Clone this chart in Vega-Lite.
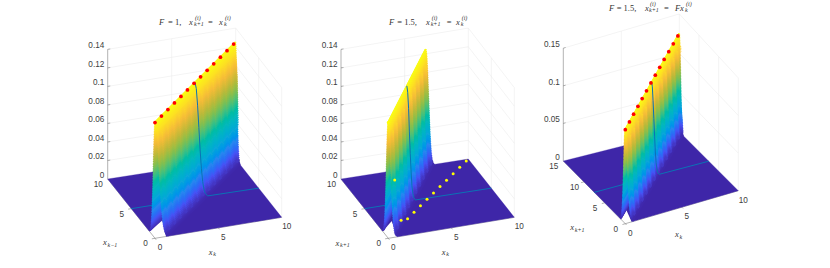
{"$schema":"https://vega.github.io/schema/vega-lite/v6.json","width":830,"height":268,"padding":0,"autosize":"none","background":"white","config":{"view":{"stroke":null}},
"params":[{"name":"PR","value":[
{"a":155,"b":126.7,"c":-47.3,"d":1.3,"e":238.3,"f":-21,"g":-59.3,"h":1,"zs":926,"q":0.01,"ym":10,"F":1},
{"a":388.3,"b":126,"c":-47.3,"d":1.3,"e":238.3,"f":-21,"g":-59.3,"h":1,"zs":926,"q":0.01,"ym":10,"F":1.5},
{"a":625.3,"b":113,"c":-62,"d":3,"e":223.7,"f":-33,"g":-62.7,"h":3.7,"zs":752,"q":0.044,"ym":15,"F":1.5}]}],
"datasets":{
"profile":[{"w":0,"z":0.125},{"w":0.052,"z":0.1231},{"w":0.074,"z":0.1213},{"w":0.091,"z":0.1194},{"w":0.106,"z":0.1175},{"w":0.1185,"z":0.1156},{"w":0.13,"z":0.1138},{"w":0.1413,"z":0.1119},{"w":0.152,"z":0.11},{"w":0.1616,"z":0.1081},{"w":0.171,"z":0.1063},{"w":0.18,"z":0.1044},{"w":0.189,"z":0.1025},{"w":0.1976,"z":0.1006},{"w":0.206,"z":0.0988},{"w":0.2142,"z":0.0969},{"w":0.222,"z":0.095},{"w":0.2302,"z":0.0931},{"w":0.238,"z":0.0913},{"w":0.2457,"z":0.0894},{"w":0.253,"z":0.0875},{"w":0.261,"z":0.0856},{"w":0.268,"z":0.0838},{"w":0.276,"z":0.0819},{"w":0.283,"z":0.08},{"w":0.2909,"z":0.0781},{"w":0.298,"z":0.0763},{"w":0.3057,"z":0.0744},{"w":0.313,"z":0.0725},{"w":0.3206,"z":0.0706},{"w":0.328,"z":0.0688},{"w":0.3356,"z":0.0669},{"w":0.343,"z":0.065},{"w":0.3506,"z":0.0631},{"w":0.358,"z":0.0613},{"w":0.366,"z":0.0594},{"w":0.374,"z":0.0575},{"w":0.3817,"z":0.0556},{"w":0.39,"z":0.0538},{"w":0.398,"z":0.0519},{"w":0.406,"z":0.05},{"w":0.4145,"z":0.0481},{"w":0.423,"z":0.0463},{"w":0.4317,"z":0.0444},{"w":0.441,"z":0.0425},{"w":0.4498,"z":0.0406},{"w":0.459,"z":0.0388},{"w":0.4687,"z":0.0369},{"w":0.479,"z":0.035},{"w":0.4889,"z":0.0331},{"w":0.5,"z":0.0313},{"w":0.5105,"z":0.0294},{"w":0.522,"z":0.0275},{"w":0.534,"z":0.0256},{"w":0.547,"z":0.0238},{"w":0.5601,"z":0.0219},{"w":0.574,"z":0.02},{"w":0.5896,"z":0.0181},{"w":0.606,"z":0.0163},{"w":0.624,"z":0.0144},{"w":0.644,"z":0.0125},{"w":0.666,"z":0.0106},{"w":0.692,"z":0.0088},{"w":0.7225,"z":0.0069},{"w":0.761,"z":0.005},{"w":0.7945,"z":0.0038},{"w":0.839,"z":0.0025},{"w":0.892,"z":0.0015},{"w":0.976,"z":0.0006}],
"rest":[
{"k":"g","p":0,"a":[0,10,0.02],"b":[10,10,0.02]},{"k":"g","p":0,"a":[10,10,0.02],"b":[10,0,0.02]},
{"k":"g","p":0,"a":[0,10,0.04],"b":[10,10,0.04]},{"k":"g","p":0,"a":[10,10,0.04],"b":[10,0,0.04]},
{"k":"g","p":0,"a":[0,10,0.06],"b":[10,10,0.06]},{"k":"g","p":0,"a":[10,10,0.06],"b":[10,0,0.06]},
{"k":"g","p":0,"a":[0,10,0.08],"b":[10,10,0.08]},{"k":"g","p":0,"a":[10,10,0.08],"b":[10,0,0.08]},
{"k":"g","p":0,"a":[0,10,0.1],"b":[10,10,0.1]},{"k":"g","p":0,"a":[10,10,0.1],"b":[10,0,0.1]},
{"k":"g","p":0,"a":[0,10,0.12],"b":[10,10,0.12]},{"k":"g","p":0,"a":[10,10,0.12],"b":[10,0,0.12]},
{"k":"g","p":0,"a":[0,10,0.14],"b":[10,10,0.14]},{"k":"g","p":0,"a":[10,10,0.14],"b":[10,0,0.14]},
{"k":"g","p":0,"a":[5,10,0],"b":[5,10,0.14]},{"k":"g","p":0,"a":[10,10,0],"b":[10,10,0.14]},{"k":"g","p":0,"a":[10,5,0],"b":[10,5,0.14]},{"k":"g","p":0,"a":[10,0,0],"b":[10,0,0.14]},
{"k":"g","p":1,"a":[0,10,0.02],"b":[10,10,0.02]},{"k":"g","p":1,"a":[10,10,0.02],"b":[10,0,0.02]},
{"k":"g","p":1,"a":[0,10,0.04],"b":[10,10,0.04]},{"k":"g","p":1,"a":[10,10,0.04],"b":[10,0,0.04]},
{"k":"g","p":1,"a":[0,10,0.06],"b":[10,10,0.06]},{"k":"g","p":1,"a":[10,10,0.06],"b":[10,0,0.06]},
{"k":"g","p":1,"a":[0,10,0.08],"b":[10,10,0.08]},{"k":"g","p":1,"a":[10,10,0.08],"b":[10,0,0.08]},
{"k":"g","p":1,"a":[0,10,0.1],"b":[10,10,0.1]},{"k":"g","p":1,"a":[10,10,0.1],"b":[10,0,0.1]},
{"k":"g","p":1,"a":[0,10,0.12],"b":[10,10,0.12]},{"k":"g","p":1,"a":[10,10,0.12],"b":[10,0,0.12]},
{"k":"g","p":1,"a":[0,10,0.14],"b":[10,10,0.14]},{"k":"g","p":1,"a":[10,10,0.14],"b":[10,0,0.14]},
{"k":"g","p":1,"a":[5,10,0],"b":[5,10,0.14]},{"k":"g","p":1,"a":[10,10,0],"b":[10,10,0.14]},{"k":"g","p":1,"a":[10,5,0],"b":[10,5,0.14]},{"k":"g","p":1,"a":[10,0,0],"b":[10,0,0.14]},
{"k":"g","p":2,"a":[0,15,0.05],"b":[10,15,0.05]},{"k":"g","p":2,"a":[10,15,0.05],"b":[10,0,0.05]},
{"k":"g","p":2,"a":[0,15,0.1],"b":[10,15,0.1]},{"k":"g","p":2,"a":[10,15,0.1],"b":[10,0,0.1]},
{"k":"g","p":2,"a":[0,15,0.15],"b":[10,15,0.15]},{"k":"g","p":2,"a":[10,15,0.15],"b":[10,0,0.15]},
{"k":"g","p":2,"a":[5,15,0],"b":[5,15,0.15]},{"k":"g","p":2,"a":[10,15,0],"b":[10,15,0.15]},{"k":"g","p":2,"a":[10,10,0],"b":[10,10,0.15]},{"k":"g","p":2,"a":[10,5,0],"b":[10,5,0.15]},{"k":"g","p":2,"a":[10,0,0],"b":[10,0,0.15]},
{"k":"ax","p":0,"a":[0,10,0],"b":[0,10,0.14]},{"k":"ax","p":0,"a":[0,0,0],"b":[10,0,0]},{"k":"ax","p":0,"a":[0,0,0],"b":[0,10,0]},
{"k":"ax","p":1,"a":[0,10,0],"b":[0,10,0.14]},{"k":"ax","p":1,"a":[0,0,0],"b":[10,0,0]},{"k":"ax","p":1,"a":[0,0,0],"b":[0,10,0]},
{"k":"ax","p":2,"a":[0,15,0],"b":[0,15,0.15]},{"k":"ax","p":2,"a":[0,0,0],"b":[10,0,0]},{"k":"ax","p":2,"a":[0,0,0],"b":[0,15,0]},
{"k":"ax","p":0,"a":[0,0,0],"b":[0,-0.25,0]},{"k":"ax","p":0,"a":[5,0,0],"b":[5,-0.25,0]},{"k":"ax","p":0,"a":[0,0,0],"b":[-0.25,0,0]},{"k":"ax","p":0,"a":[0,5,0],"b":[-0.25,5,0]},
{"k":"ax","p":1,"a":[0,0,0],"b":[0,-0.25,0]},{"k":"ax","p":1,"a":[5,0,0],"b":[5,-0.25,0]},{"k":"ax","p":1,"a":[0,0,0],"b":[-0.25,0,0]},{"k":"ax","p":1,"a":[0,5,0],"b":[-0.25,5,0]},
{"k":"ax","p":2,"a":[0,0,0],"b":[0,-0.3,0]},{"k":"ax","p":2,"a":[5,0,0],"b":[5,-0.3,0]},{"k":"ax","p":2,"a":[0,0,0],"b":[-0.25,0,0]},{"k":"ax","p":2,"a":[0,5,0],"b":[-0.25,5,0]},{"k":"ax","p":2,"a":[0,10,0],"b":[-0.25,10,0]},
{"k":"ax","p":0,"a":[0,10,0.02],"b":[0.2,10,0.02]},{"k":"ax","p":0,"a":[0,10,0.04],"b":[0.2,10,0.04]},{"k":"ax","p":0,"a":[0,10,0.06],"b":[0.2,10,0.06]},{"k":"ax","p":0,"a":[0,10,0.08],"b":[0.2,10,0.08]},{"k":"ax","p":0,"a":[0,10,0.1],"b":[0.2,10,0.1]},{"k":"ax","p":0,"a":[0,10,0.12],"b":[0.2,10,0.12]},{"k":"ax","p":0,"a":[0,10,0.14],"b":[0.2,10,0.14]},
{"k":"ax","p":1,"a":[0,10,0.02],"b":[0.2,10,0.02]},{"k":"ax","p":1,"a":[0,10,0.04],"b":[0.2,10,0.04]},{"k":"ax","p":1,"a":[0,10,0.06],"b":[0.2,10,0.06]},{"k":"ax","p":1,"a":[0,10,0.08],"b":[0.2,10,0.08]},{"k":"ax","p":1,"a":[0,10,0.1],"b":[0.2,10,0.1]},{"k":"ax","p":1,"a":[0,10,0.12],"b":[0.2,10,0.12]},{"k":"ax","p":1,"a":[0,10,0.14],"b":[0.2,10,0.14]},
{"k":"ax","p":2,"a":[0,15,0.05],"b":[0.2,15,0.05]},{"k":"ax","p":2,"a":[0,15,0.1],"b":[0.2,15,0.1]},{"k":"ax","p":2,"a":[0,15,0.15],"b":[0.2,15,0.15]},
{"k":"fl","p":0,"o":0,"a":[0.87,0,0]},{"k":"fl","p":0,"o":1,"a":[10,0,0]},{"k":"fl","p":0,"o":2,"a":[10,10,0]},{"k":"fl","p":0,"o":3,"a":[0,10,0]},{"k":"fl","p":0,"o":4,"a":[0,1.2,0]},{"k":"fl","p":0,"o":5,"a":[1.5,2.5,0]},
{"k":"fl","p":1,"o":0,"a":[0.71,0,0]},{"k":"fl","p":1,"o":1,"a":[10,0,0]},{"k":"fl","p":1,"o":2,"a":[10,10,0]},{"k":"fl","p":1,"o":3,"a":[0,10,0]},{"k":"fl","p":1,"o":4,"a":[0,1.2,0]},{"k":"fl","p":1,"o":5,"a":[1.2,2.5,0]},
{"k":"fl","p":2,"o":0,"a":[0.56,0,0]},{"k":"fl","p":2,"o":1,"a":[10,0,0]},{"k":"fl","p":2,"o":2,"a":[10,15,0]},{"k":"fl","p":2,"o":3,"a":[0,15,0]},{"k":"fl","p":2,"o":4,"a":[0,1.05,0]},{"k":"fl","p":2,"o":5,"a":[1,2.5,0]},
{"k":"bl","p":0,"a":[0,5,0]},{"k":"bl","p":0,"a":[4,5,0]},
{"k":"bl","p":1,"a":[0,5,0]},{"k":"bl","p":1,"a":[3,5,0]},
{"k":"bl","p":2,"a":[0,7.5,0]},{"k":"bl","p":2,"a":[4,7.5,0]},
{"k":"br","p":0,"a":[5,5,0.125]},{"k":"br","p":0,"a":[5.1,5,0.118]},{"k":"br","p":0,"a":[5.2,5,0.1]},{"k":"br","p":0,"a":[5.3,5,0.0758]},{"k":"br","p":0,"a":[5.4,5,0.0514]},{"k":"br","p":0,"a":[5.5,5,0.0312]},{"k":"br","p":0,"a":[5.6,5,0.0169]},{"k":"br","p":0,"a":[5.7,5,0.0082]},{"k":"br","p":0,"a":[5.8,5,0.0036]},{"k":"br","p":0,"a":[6,5,0.0005]},{"k":"br","p":0,"a":[10,5,0]},
{"k":"br","p":1,"a":[3.33,5,0.125]},{"k":"br","p":1,"a":[3.4,5,0.118]},{"k":"br","p":1,"a":[3.47,5,0.1]},{"k":"br","p":1,"a":[3.53,5,0.0758]},{"k":"br","p":1,"a":[3.6,5,0.0514]},{"k":"br","p":1,"a":[3.67,5,0.0312]},{"k":"br","p":1,"a":[3.73,5,0.0169]},{"k":"br","p":1,"a":[3.8,5,0.0082]},{"k":"br","p":1,"a":[3.87,5,0.0036]},{"k":"br","p":1,"a":[4,5,0.0005]},{"k":"br","p":1,"a":[10,5,0]},
{"k":"br","p":2,"a":[5,7.5,0.125]},{"k":"br","p":2,"a":[5.07,7.5,0.118]},{"k":"br","p":2,"a":[5.13,7.5,0.1]},{"k":"br","p":2,"a":[5.2,7.5,0.0758]},{"k":"br","p":2,"a":[5.27,7.5,0.0514]},{"k":"br","p":2,"a":[5.33,7.5,0.0312]},{"k":"br","p":2,"a":[5.4,7.5,0.0169]},{"k":"br","p":2,"a":[5.47,7.5,0.0082]},{"k":"br","p":2,"a":[5.53,7.5,0.0036]},{"k":"br","p":2,"a":[5.67,7.5,0.0005]},{"k":"br","p":2,"a":[10,7.5,0]},
{"k":"dr","p":0,"a":[0,0,0.125]},{"k":"dr","p":0,"a":[0.81,0.81,0.125]},{"k":"dr","p":0,"a":[1.62,1.62,0.125]},{"k":"dr","p":0,"a":[2.44,2.44,0.125]},{"k":"dr","p":0,"a":[3.25,3.25,0.125]},{"k":"dr","p":0,"a":[4.06,4.06,0.125]},{"k":"dr","p":0,"a":[4.88,4.88,0.125]},{"k":"dr","p":0,"a":[5.69,5.69,0.125]},{"k":"dr","p":0,"a":[6.5,6.5,0.125]},{"k":"dr","p":0,"a":[7.31,7.31,0.125]},{"k":"dr","p":0,"a":[8.13,8.13,0.125]},{"k":"dr","p":0,"a":[8.94,8.94,0.125]},{"k":"dr","p":0,"a":[9.75,9.75,0.125]},
{"k":"dr","p":2,"a":[0,0,0.125]},{"k":"dr","p":2,"a":[0.81,1.22,0.125]},{"k":"dr","p":2,"a":[1.62,2.44,0.125]},{"k":"dr","p":2,"a":[2.44,3.66,0.125]},{"k":"dr","p":2,"a":[3.25,4.88,0.125]},{"k":"dr","p":2,"a":[4.06,6.09,0.125]},{"k":"dr","p":2,"a":[4.88,7.31,0.125]},{"k":"dr","p":2,"a":[5.69,8.53,0.125]},{"k":"dr","p":2,"a":[6.5,9.75,0.125]},{"k":"dr","p":2,"a":[7.31,10.97,0.125]},{"k":"dr","p":2,"a":[8.13,12.19,0.125]},{"k":"dr","p":2,"a":[8.94,13.41,0.125]},{"k":"dr","p":2,"a":[9.75,14.63,0.125]},
{"k":"dy","p":1,"a":[0,0,0.125]},{"k":"dy","p":1,"a":[0.81,0.81,0.056]},{"k":"dy","p":1,"a":[1.62,1.62,0.0054]},{"k":"dy","p":1,"a":[2.44,2.44,0]},{"k":"dy","p":1,"a":[3.25,3.25,0]},{"k":"dy","p":1,"a":[4.06,4.06,0]},{"k":"dy","p":1,"a":[4.88,4.88,0]},{"k":"dy","p":1,"a":[5.69,5.69,0]},{"k":"dy","p":1,"a":[6.5,6.5,0]},{"k":"dy","p":1,"a":[7.31,7.31,0]},{"k":"dy","p":1,"a":[8.13,8.13,0]},{"k":"dy","p":1,"a":[8.94,8.94,0]},{"k":"dy","p":1,"a":[9.75,9.75,0]},
{"k":"zt","p":0,"a":[0,10,0],"t":"0"},{"k":"zt","p":0,"a":[0,10,0.02],"t":"0.02"},{"k":"zt","p":0,"a":[0,10,0.04],"t":"0.04"},{"k":"zt","p":0,"a":[0,10,0.06],"t":"0.06"},{"k":"zt","p":0,"a":[0,10,0.08],"t":"0.08"},{"k":"zt","p":0,"a":[0,10,0.1],"t":"0.1"},{"k":"zt","p":0,"a":[0,10,0.12],"t":"0.12"},{"k":"zt","p":0,"a":[0,10,0.14],"t":"0.14"},
{"k":"zt","p":1,"a":[0,10,0],"t":"0"},{"k":"zt","p":1,"a":[0,10,0.02],"t":"0.02"},{"k":"zt","p":1,"a":[0,10,0.04],"t":"0.04"},{"k":"zt","p":1,"a":[0,10,0.06],"t":"0.06"},{"k":"zt","p":1,"a":[0,10,0.08],"t":"0.08"},{"k":"zt","p":1,"a":[0,10,0.1],"t":"0.1"},{"k":"zt","p":1,"a":[0,10,0.12],"t":"0.12"},{"k":"zt","p":1,"a":[0,10,0.14],"t":"0.14"},
{"k":"zt","p":2,"a":[0,15,0],"t":"0"},{"k":"zt","p":2,"a":[0,15,0.05],"t":"0.05"},{"k":"zt","p":2,"a":[0,15,0.1],"t":"0.1"},{"k":"zt","p":2,"a":[0,15,0.15],"t":"0.15"},
{"k":"xt","p":0,"a":[0,0,0],"t":"0"},{"k":"xt","p":0,"a":[5,0,0],"t":"5"},{"k":"xt","p":0,"a":[10,0,0],"t":"10"},
{"k":"xt","p":1,"a":[0,0,0],"t":"0"},{"k":"xt","p":1,"a":[5,0,0],"t":"5"},{"k":"xt","p":1,"a":[10,0,0],"t":"10"},
{"k":"xt","p":2,"a":[0,0,0],"t":"0"},{"k":"xt","p":2,"a":[5,0,0],"t":"5"},{"k":"xt","p":2,"a":[10,0,0],"t":"10"},
{"k":"yt","p":0,"a":[0,0,0],"t":"0"},{"k":"yt","p":0,"a":[0,5,0],"t":"5"},{"k":"yt","p":0,"a":[0,10,0],"t":"10"},
{"k":"yt","p":1,"a":[0,0,0],"t":"0"},{"k":"yt","p":1,"a":[0,5,0],"t":"5"},{"k":"yt","p":1,"a":[0,10,0],"t":"10"},
{"k":"yt","p":2,"a":[0,0,0],"t":"0"},{"k":"yt","p":2,"a":[0,5,0],"t":"5"},{"k":"yt","p":2,"a":[0,10,0],"t":"10"},{"k":"yt","p":2,"a":[0,15,0],"t":"15"},
{"k":"i","p":0,"a":[0,0,0.2336],"tx":4,"t":"F"},{"k":"n","p":0,"a":[0,0,0.2336],"tx":13,"t":"= 1,"},{"k":"i","p":0,"a":[0,0,0.2336],"tx":34,"t":"x"},{"k":"sup","p":0,"a":[0,0,0.2336],"tx":40,"t":"(i)"},{"k":"sub","p":0,"a":[0,0,0.2336],"tx":39,"t":"k+1"},{"k":"n","p":0,"a":[0,0,0.2336],"tx":53,"t":"="},{"k":"i","p":0,"a":[0,0,0.2336],"tx":64,"t":"x"},{"k":"sup","p":0,"a":[0,0,0.2336],"tx":70,"t":"(i)"},{"k":"sub","p":0,"a":[0,0,0.2336],"tx":69,"t":"k"},
{"k":"i","p":1,"a":[0,0,0.2336],"tx":0.7,"t":"F"},{"k":"n","p":1,"a":[0,0,0.2336],"tx":9,"t":"= 1.5,"},{"k":"i","p":1,"a":[0,0,0.2336],"tx":37.7,"t":"x"},{"k":"sup","p":1,"a":[0,0,0.2336],"tx":43.4,"t":"(i)"},{"k":"sub","p":1,"a":[0,0,0.2336],"tx":42.4,"t":"k+1"},{"k":"n","p":1,"a":[0,0,0.2336],"tx":58.4,"t":"="},{"k":"i","p":1,"a":[0,0,0.2336],"tx":67.7,"t":"x"},{"k":"sup","p":1,"a":[0,0,0.2336],"tx":73.4,"t":"(i)"},{"k":"sub","p":1,"a":[0,0,0.2336],"tx":72.4,"t":"k"},
{"k":"i","p":2,"a":[0,0,0.287],"tx":-16.3,"t":"F"},{"k":"n","p":2,"a":[0,0,0.287],"tx":-8.6,"t":"= 1.5,"},{"k":"i","p":2,"a":[0,0,0.287],"tx":19.7,"t":"x"},{"k":"sup","p":2,"a":[0,0,0.287],"tx":24.7,"t":"(i)"},{"k":"sub","p":2,"a":[0,0,0.287],"tx":23.7,"t":"k+1"},{"k":"n","p":2,"a":[0,0,0.287],"tx":38.7,"t":"="},{"k":"i","p":2,"a":[0,0,0.287],"tx":49.7,"t":"F"},{"k":"i","p":2,"a":[0,0,0.287],"tx":54.7,"t":"x"},{"k":"sup","p":2,"a":[0,0,0.287],"tx":60.7,"t":"(i)"},{"k":"sub","p":2,"a":[0,0,0.287],"tx":59.7,"t":"k"},
{"k":"i","p":0,"a":[4.56,0,-0.025],"tx":-4,"t":"x"},{"k":"sub","p":0,"a":[4.56,0,-0.025],"tx":0.5,"t":"k"},
{"k":"i","p":1,"a":[4.56,0,-0.025],"tx":-4,"t":"x"},{"k":"sub","p":1,"a":[4.56,0,-0.025],"tx":0.5,"t":"k"},
{"k":"i","p":2,"a":[4.75,0,-0.035],"tx":-4,"t":"x"},{"k":"sub","p":2,"a":[4.75,0,-0.035],"tx":0.5,"t":"k"},
{"k":"i","p":0,"a":[-1.55,5,-0.033],"tx":-8.5,"t":"x"},{"k":"sub","p":0,"a":[-1.55,5,-0.033],"tx":-4,"t":"k−1"},
{"k":"i","p":1,"a":[-1.63,5,-0.033],"tx":-8.5,"t":"x"},{"k":"sub","p":1,"a":[-1.63,5,-0.033],"tx":-4,"t":"k+1"},
{"k":"i","p":2,"a":[-1.35,7.5,-0.041],"tx":-8.5,"t":"x"},{"k":"sub","p":2,"a":[-1.35,7.5,-0.041],"tx":-4,"t":"k+1"}
]},
"data":{"name":"rest"},
"transform":[
{"calculate":"PR[datum.p]","as":"P"},
{"calculate":"datum.a[0]/10","as":"A"},{"calculate":"datum.a[1]/datum.P.ym","as":"B"},
{"calculate":"datum.P.a+datum.A*datum.P.b+datum.B*datum.P.c+datum.A*datum.B*datum.P.d+(datum.tx||0)","as":"sx"},
{"calculate":"datum.P.e+datum.A*datum.P.f+datum.B*datum.P.g+datum.A*datum.B*datum.P.h-datum.a[2]*datum.P.zs*(1+datum.P.q*datum.A*datum.B)","as":"sy"},
{"calculate":"datum.b?datum.b[0]/10:0","as":"A2"},{"calculate":"datum.b?datum.b[1]/datum.P.ym:0","as":"B2"},
{"calculate":"datum.P.a+datum.A2*datum.P.b+datum.B2*datum.P.c+datum.A2*datum.B2*datum.P.d","as":"sx2"},
{"calculate":"datum.P.e+datum.A2*datum.P.f+datum.B2*datum.P.g+datum.A2*datum.B2*datum.P.h-(datum.b?datum.b[2]:0)*datum.P.zs*(1+datum.P.q*datum.A2*datum.B2)","as":"sy2"}
],
"encoding":{
"x":{"field":"sx","type":"quantitative","scale":{"domain":[0,830],"nice":false,"zero":false},"axis":null},
"y":{"field":"sy","type":"quantitative","scale":{"domain":[268,0],"nice":false,"zero":false},"axis":null}},
"layer":[
{"transform":[{"filter":"datum.k=='g'"}],"mark":{"type":"rule","stroke":"#e8e8e8","strokeWidth":0.5},"encoding":{"x2":{"field":"sx2"},"y2":{"field":"sy2"}}},
{"transform":[{"filter":"datum.k=='ax'"}],"mark":{"type":"rule","stroke":"#666666","strokeWidth":0.5},"encoding":{"x2":{"field":"sx2"},"y2":{"field":"sy2"}}},
{"transform":[{"filter":"datum.k=='fl'"}],"mark":{"type":"line","fill":"#3e26a8","stroke":"#3e26a8","strokeWidth":0.3},"encoding":{"detail":{"field":"p"},"order":{"field":"o"}}},
{"transform":[{"filter":"datum.k=='bl'"}],"mark":{"type":"line","stroke":"#0b72b5","strokeWidth":1},"encoding":{"detail":{"field":"p"}}},
{"data":{"name":"profile"},
"transform":[
{"calculate":"[0,1,2]","as":"p"},{"flatten":["p"]},{"calculate":"[-1,1]","as":"s"},{"flatten":["s"]},
{"calculate":"PR[datum.p]","as":"P"},
{"calculate":"datum.s<0?-1.23*datum.w:datum.w","as":"W"},
{"calculate":"max(0,-datum.W)","as":"y1"},{"calculate":"(datum.y1+datum.W)/datum.P.F","as":"x1"},
{"calculate":"min(datum.P.ym,10*datum.P.F-datum.W)","as":"y2"},{"calculate":"(datum.y2+datum.W)/datum.P.F","as":"x2"},
{"calculate":"datum.x1/10","as":"A"},{"calculate":"datum.y1/datum.P.ym","as":"B"},
{"calculate":"datum.x2/10","as":"A2"},{"calculate":"datum.y2/datum.P.ym","as":"B2"},
{"calculate":"datum.P.a+datum.A*datum.P.b+datum.B*datum.P.c+datum.A*datum.B*datum.P.d","as":"sx"},
{"calculate":"datum.P.e+datum.A*datum.P.f+datum.B*datum.P.g+datum.A*datum.B*datum.P.h-datum.z*datum.P.zs*(1+datum.P.q*datum.A*datum.B)","as":"sy"},
{"calculate":"datum.P.a+datum.A2*datum.P.b+datum.B2*datum.P.c+datum.A2*datum.B2*datum.P.d","as":"sx2"},
{"calculate":"datum.P.e+datum.A2*datum.P.f+datum.B2*datum.P.g+datum.A2*datum.B2*datum.P.h-datum.z*datum.P.zs*(1+datum.P.q*datum.A2*datum.B2)","as":"sy2"}
],
"layer":[
{"mark":{"type":"rule","strokeWidth":2,"strokeCap":"butt"},
"encoding":{"x2":{"field":"sx2"},"y2":{"field":"sy2"},"order":{"field":"W","type":"quantitative"},
"color":{"field":"z","type":"quantitative","legend":null,"scale":{"domain":[0,0.0125,0.025,0.0375,0.05,0.0625,0.075,0.0875,0.1,0.1125,0.125],"range":["#3e26a8","#4752f5","#2d86ef","#17a7d8","#06b8ba","#2ebf8c","#81bf51","#c2b93a","#f4bb39","#fddc25","#f9fb15"]}}}},
{"transform":[{"filter":"datum.W>0.15&&datum.z>0.004"}],"mark":{"type":"rule","strokeWidth":3.5,"strokeCap":"butt","strokeDash":[3,5],"strokeDashOffset":4},
"encoding":{"x2":{"field":"sx2"},"y2":{"field":"sy2"},"order":{"field":"W","type":"quantitative"},
"color":{"field":"z","type":"quantitative","legend":null}}}
]},
{"transform":[{"filter":"datum.k=='br'"}],"mark":{"type":"line","stroke":"#0b72b5","strokeWidth":1},"encoding":{"detail":{"field":"p"}}},
{"transform":[{"filter":"datum.k=='dr'"}],"mark":{"type":"point","filled":true,"color":"#ff0000","size":14,"opacity":1}},
{"transform":[{"filter":"datum.k=='dy'"}],"mark":{"type":"point","filled":true,"color":"#ffff00","size":9,"opacity":1}},
{"transform":[{"filter":"datum.k=='zt'"}],"mark":{"type":"text","align":"right","baseline":"middle","dx":-3.4,"dy":-3,"font":"Liberation Sans","fontSize":8.2,"fill":"#404040"},"encoding":{"text":{"field":"t"}}},
{"transform":[{"filter":"datum.k=='xt'"}],"mark":{"type":"text","align":"center","baseline":"middle","dx":5,"dy":10,"font":"Liberation Sans","fontSize":8.2,"fill":"#404040"},"encoding":{"text":{"field":"t"}}},
{"transform":[{"filter":"datum.k=='yt'"}],"mark":{"type":"text","align":"center","baseline":"middle","dx":-9.5,"dy":6,"font":"Liberation Sans","fontSize":8.2,"fill":"#404040"},"encoding":{"text":{"field":"t"}}},
{"transform":[{"filter":"datum.k=='i'"}],"mark":{"type":"text","align":"left","baseline":"middle","font":"Liberation Serif","fontStyle":"italic","fontSize":8.5,"fill":"#333333"},"encoding":{"text":{"field":"t"}}},
{"transform":[{"filter":"datum.k=='n'"}],"mark":{"type":"text","align":"left","baseline":"middle","font":"Liberation Serif","fontSize":8.5,"fill":"#333333"},"encoding":{"text":{"field":"t"}}},
{"transform":[{"filter":"datum.k=='sup'"}],"mark":{"type":"text","align":"left","baseline":"middle","dy":-3.5,"font":"Liberation Serif","fontStyle":"italic","fontSize":6,"fill":"#333333"},"encoding":{"text":{"field":"t"}}},
{"transform":[{"filter":"datum.k=='sub'"}],"mark":{"type":"text","align":"left","baseline":"middle","dy":2.5,"font":"Liberation Serif","fontStyle":"italic","fontSize":6,"fill":"#333333"},"encoding":{"text":{"field":"t"}}}
]}
